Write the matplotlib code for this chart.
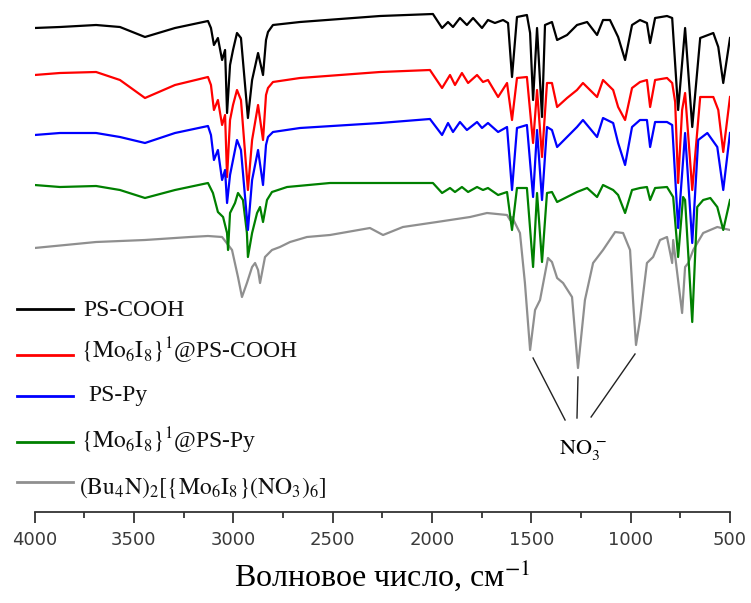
import matplotlib
matplotlib.use("Agg")
import matplotlib.pyplot as plt
from matplotlib.lines import Line2D
from matplotlib.ticker import MultipleLocator

plt.rcParams['mathtext.fontset'] = 'stix'

# wavenumber (cm-1) / offset absorbance (arb., larger = further down the plot)
w_black = [4000, 3872, 3690, 3570, 3444, 3293, 3127, 3112, 3097, 3077, 3056, 3041, 3031, 3016, 3001,
           2981, 2961, 2926, 2905, 2875, 2850, 2835, 2825, 2800, 2664, 2261, 1995, 1949, 1919, 1894,
           1859, 1824, 1793, 1748, 1718, 1683, 1642, 1617, 1597, 1572, 1522, 1506, 1491, 1471, 1446,
           1431, 1396, 1370, 1320, 1270, 1219, 1169, 1139, 1104, 1063, 1028, 993, 953, 918, 902,
           877, 817, 791, 761, 726, 690, 650, 584, 559, 534, 500]
a_black = [28, 27, 25, 27, 37, 28, 21, 28, 45, 38, 60, 50, 113, 65, 50,
           33, 38, 118, 80, 53, 75, 40, 32, 25, 22, 16, 14, 28, 22, 27,
           18, 25, 18, 28, 20, 23, 20, 23, 77, 17, 15, 33, 100, 28, 117,
           25, 22, 40, 35, 25, 22, 35, 20, 20, 37, 60, 25, 20, 23, 43,
           18, 16, 18, 110, 28, 127, 38, 33, 47, 83, 38]

w_red = [4000, 3872, 3690, 3570, 3444, 3293, 3127, 3112, 3097, 3077, 3056, 3041, 3031, 3016, 3001,
         2981, 2961, 2926, 2905, 2875, 2850, 2835, 2825, 2800, 2664, 2261, 2010, 1949, 1909, 1884,
         1849, 1818, 1773, 1743, 1718, 1667, 1622, 1597, 1572, 1522, 1491, 1471, 1446, 1421, 1396,
         1370, 1320, 1270, 1240, 1169, 1139, 1088, 1063, 1028, 993, 953, 918, 902, 877, 817,
         791, 776, 761, 741, 726, 690, 650, 584, 559, 534, 500]
a_red = [75, 73, 72, 80, 98, 85, 77, 85, 110, 100, 125, 115, 177, 120, 105,
         90, 100, 190, 140, 105, 140, 95, 88, 82, 78, 72, 70, 88, 75, 85,
         73, 83, 75, 82, 80, 97, 83, 120, 78, 77, 143, 90, 157, 83, 83,
         107, 98, 90, 83, 97, 80, 90, 107, 120, 88, 82, 80, 107, 80, 78,
         83, 102, 183, 110, 93, 190, 97, 97, 110, 152, 97]

w_blue = [4000, 3872, 3690, 3570, 3444, 3293, 3127, 3112, 3097, 3077, 3056, 3041, 3031, 3016, 3001,
          2981, 2961, 2926, 2905, 2875, 2850, 2835, 2825, 2800, 2664, 2261, 2010, 1949, 1919, 1894,
          1859, 1824, 1773, 1748, 1718, 1667, 1622, 1597, 1572, 1522, 1491, 1471, 1446, 1421, 1396,
          1370, 1320, 1270, 1240, 1169, 1139, 1088, 1063, 1028, 993, 953, 918, 902, 877, 817,
          791, 761, 726, 690, 660, 614, 564, 534, 500]
a_blue = [135, 133, 133, 137, 143, 133, 126, 135, 160, 150, 180, 170, 203, 175, 160,
          140, 150, 230, 180, 150, 185, 145, 137, 132, 128, 123, 119, 135, 123, 132,
          122, 130, 122, 128, 123, 132, 127, 190, 128, 125, 197, 130, 200, 127, 130,
          147, 137, 127, 120, 137, 118, 123, 143, 165, 127, 120, 120, 147, 122, 122,
          125, 228, 133, 243, 140, 133, 147, 190, 133]

w_green = [4000, 3872, 3690, 3570, 3444, 3293, 3127, 3102, 3077, 3051, 3031, 3026, 3016, 2991, 2976,
           2951, 2931, 2926, 2905, 2880, 2865, 2850, 2830, 2805, 2729, 2513, 1995, 1949, 1909, 1884,
           1849, 1818, 1773, 1743, 1718, 1667, 1622, 1597, 1572, 1522, 1491, 1471, 1446, 1421, 1396,
           1370, 1320, 1270, 1219, 1169, 1139, 1088, 1063, 1028, 993, 953, 918, 902, 877, 817,
           786, 761, 736, 726, 690, 665, 635, 599, 564, 534, 500]
a_green = [185, 187, 186, 190, 198, 190, 183, 193, 212, 217, 233, 250, 213, 203, 193,
           200, 233, 257, 233, 213, 207, 222, 200, 192, 187, 183, 183, 193, 188, 192,
           187, 192, 187, 190, 188, 195, 192, 230, 188, 188, 267, 193, 262, 193, 192,
           202, 197, 192, 188, 197, 185, 190, 195, 213, 190, 188, 187, 200, 188, 187,
           197, 257, 197, 200, 322, 207, 200, 198, 207, 230, 200]

w_gray = [4000, 3690, 3444, 3217, 3127, 3056, 3006, 2976, 2956, 2931, 2905, 2890, 2875, 2865, 2840,
          2805, 2765, 2714, 2629, 2513, 2312, 2246, 2146, 1975, 1808, 1723, 1622, 1607, 1597, 1557,
          1532, 1506, 1481, 1456, 1416, 1396, 1370, 1340, 1295, 1265, 1230, 1189, 1139, 1078, 1038,
          1003, 988, 973, 953, 918, 887, 852, 817, 791, 786, 741, 726, 710, 685, 635, 564, 500]
a_gray = [248, 242, 240, 237, 236, 237, 250, 277, 297, 283, 267, 263, 270, 283, 257,
          250, 247, 242, 237, 235, 228, 235, 227, 222, 217, 213, 215, 220, 217, 233,
          283, 350, 310, 300, 258, 262, 278, 283, 297, 368, 300, 263, 250, 232, 233,
          250, 300, 345, 320, 263, 257, 240, 237, 263, 240, 313, 267, 263, 250, 233, 227, 230]

labels = ['PS-COOH',
          r'$\{\mathrm{Mo}_6\mathrm{I}_8\}^1$@PS-COOH',
          'PS-Py',
          r'$\{\mathrm{Mo}_6\mathrm{I}_8\}^1$@PS-Py',
          r'$(\mathrm{Bu}_4\mathrm{N})_2[\{\mathrm{Mo}_6\mathrm{I}_8\}(\mathrm{NO}_3)_6]$']
colors = ['black', '#ff0000', '#0000ff', '#008000', '#8f8f8f']
series = [(w_black, a_black), (w_red, a_red), (w_blue, a_blue), (w_green, a_green), (w_gray, a_gray)]
zorders = [6, 4, 5, 3, 2]

# nitrate bands marked on the gray spectrum
no3_from = [(1491, 154), (1265, 135), (978, 158)]
no3_to = [(1330, 92), (1270, 94), (1199, 95)]

fig = plt.figure(figsize=(7.51, 6.03), dpi=100)
ax = fig.add_axes([34.5 / 751, 91 / 603, 695.5 / 751, 512 / 603])

for (w, a), c, z in zip(series, colors, zorders):
    ax.plot(w, a, color=c, lw=1.6, zorder=z, solid_joinstyle='round')

for (x0, y0), (x1, y1) in zip(no3_from, no3_to):
    ax.plot([x0, x1], [512 - y0, 512 - y1], color='#222222', lw=1.0)
ax.text(1240, 512 - 62, r'$\mathrm{NO_3^{\,-}}$', ha='center', va='center', fontsize=16)

ax.set_xlim(4000, 500)
ax.set_ylim(512, 0)
for s in ['left', 'right', 'top']:
    ax.spines[s].set_visible(False)
ax.spines['bottom'].set_linewidth(1.3)
ax.spines['bottom'].set_color('#333333')
ax.set_yticks([])
ax.xaxis.set_major_locator(MultipleLocator(500))
ax.xaxis.set_minor_locator(MultipleLocator(250))
ax.tick_params(axis='x', which='major', length=8, width=1.3, color='#333333',
               labelsize=13, labelcolor='#3a3a3a', pad=6)
ax.tick_params(axis='x', which='minor', length=4, width=1.3, color='#333333')
ax.set_xlabel('Волновое число, см$^{-1}$', fontsize=23, family='Liberation Serif', labelpad=6)

# legend drawn by hand in figure pixels
leg_y = [309, 355, 396, 442, 482]
txt_y = [316, 358, 401, 448, 493]
txt_x = [83, 81, 88, 81, 79]
for lab, c, ly, ty, tx in zip(labels, colors, leg_y, txt_y, txt_x):
    fig.add_artist(Line2D([17 / 751, 73 / 751], [1 - ly / 603, 1 - ly / 603], color=c, lw=2))
    fig.text(tx / 751, 1 - ty / 603, lab, fontsize=17, family='Liberation Serif',
             va='baseline', ha='left', color='#111111')

fig.savefig('out.png', dpi=100)
